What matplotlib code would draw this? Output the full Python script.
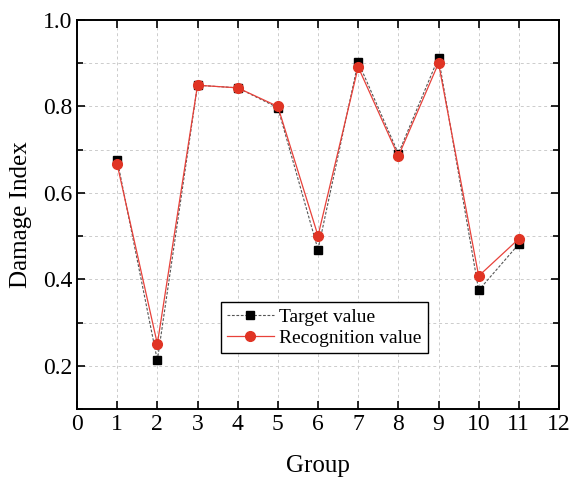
import numpy as np
import matplotlib
matplotlib.use("Agg")
import matplotlib.pyplot as plt
from matplotlib.ticker import MultipleLocator

# damage index per group
groups = [1, 2, 3, 4, 5, 6, 7, 8, 9, 10, 11]
target = [0.677, 0.213, 0.849, 0.843, 0.797, 0.469, 0.903, 0.691, 0.913, 0.375, 0.482]
recog = [0.666, 0.251, 0.849, 0.843, 0.800, 0.501, 0.891, 0.685, 0.900, 0.408, 0.494]

plt.rcParams['font.family'] = ['Liberation Serif', 'DejaVu Serif']
plt.rcParams['mathtext.fontset'] = 'stix'

fig = plt.figure(figsize=(5.79, 4.86), dpi=100)
ax = fig.add_axes([0.133, 0.158, 0.8325, 0.801])

ax.plot(groups, target, ls=(0, (2.5, 1.5)), lw=0.8, color='#555555',
        marker='s', ms=6, mfc='black', mec='black', label='Target value', zorder=3)
ax.plot(groups, recog, ls='-', lw=0.9, color='#e8413a',
        marker='o', ms=7, mfc='#e03424', mec='#e03424', label='Recognition value', zorder=4)

ax.set_xlim(0, 12)
ax.set_ylim(0.1, 1.0)
ax.xaxis.set_major_locator(MultipleLocator(1))
ax.yaxis.set_major_locator(MultipleLocator(0.2))
ax.yaxis.set_minor_locator(MultipleLocator(0.1))
ax.yaxis.set_major_formatter(matplotlib.ticker.FormatStrFormatter('%.1f'))

ax.tick_params(which='both', direction='in', top=True, right=True, labelsize=17, width=1.2)
ax.tick_params(which='major', length=6)
ax.tick_params(which='minor', length=4)
for s in ax.spines.values():
    s.set_linewidth(1.4)

ax.grid(True, which='both', ls=(0, (3, 3)), lw=0.7, color='#cccccc')
ax.set_axisbelow(True)

ax.set_xlabel('Group', fontsize=18, labelpad=14)
ax.set_ylabel('Damage Index', fontsize=18, labelpad=8)

leg = ax.legend(loc='upper left', bbox_to_anchor=(0.299, 0.275), fontsize=14,
                frameon=True, fancybox=False, edgecolor='black', framealpha=1,
                handlelength=2.4, handletextpad=0.3, borderpad=0.3, labelspacing=0.2,
                borderaxespad=0)
leg.get_frame().set_linewidth(1.0)

fig.savefig('out.png', dpi=100)
